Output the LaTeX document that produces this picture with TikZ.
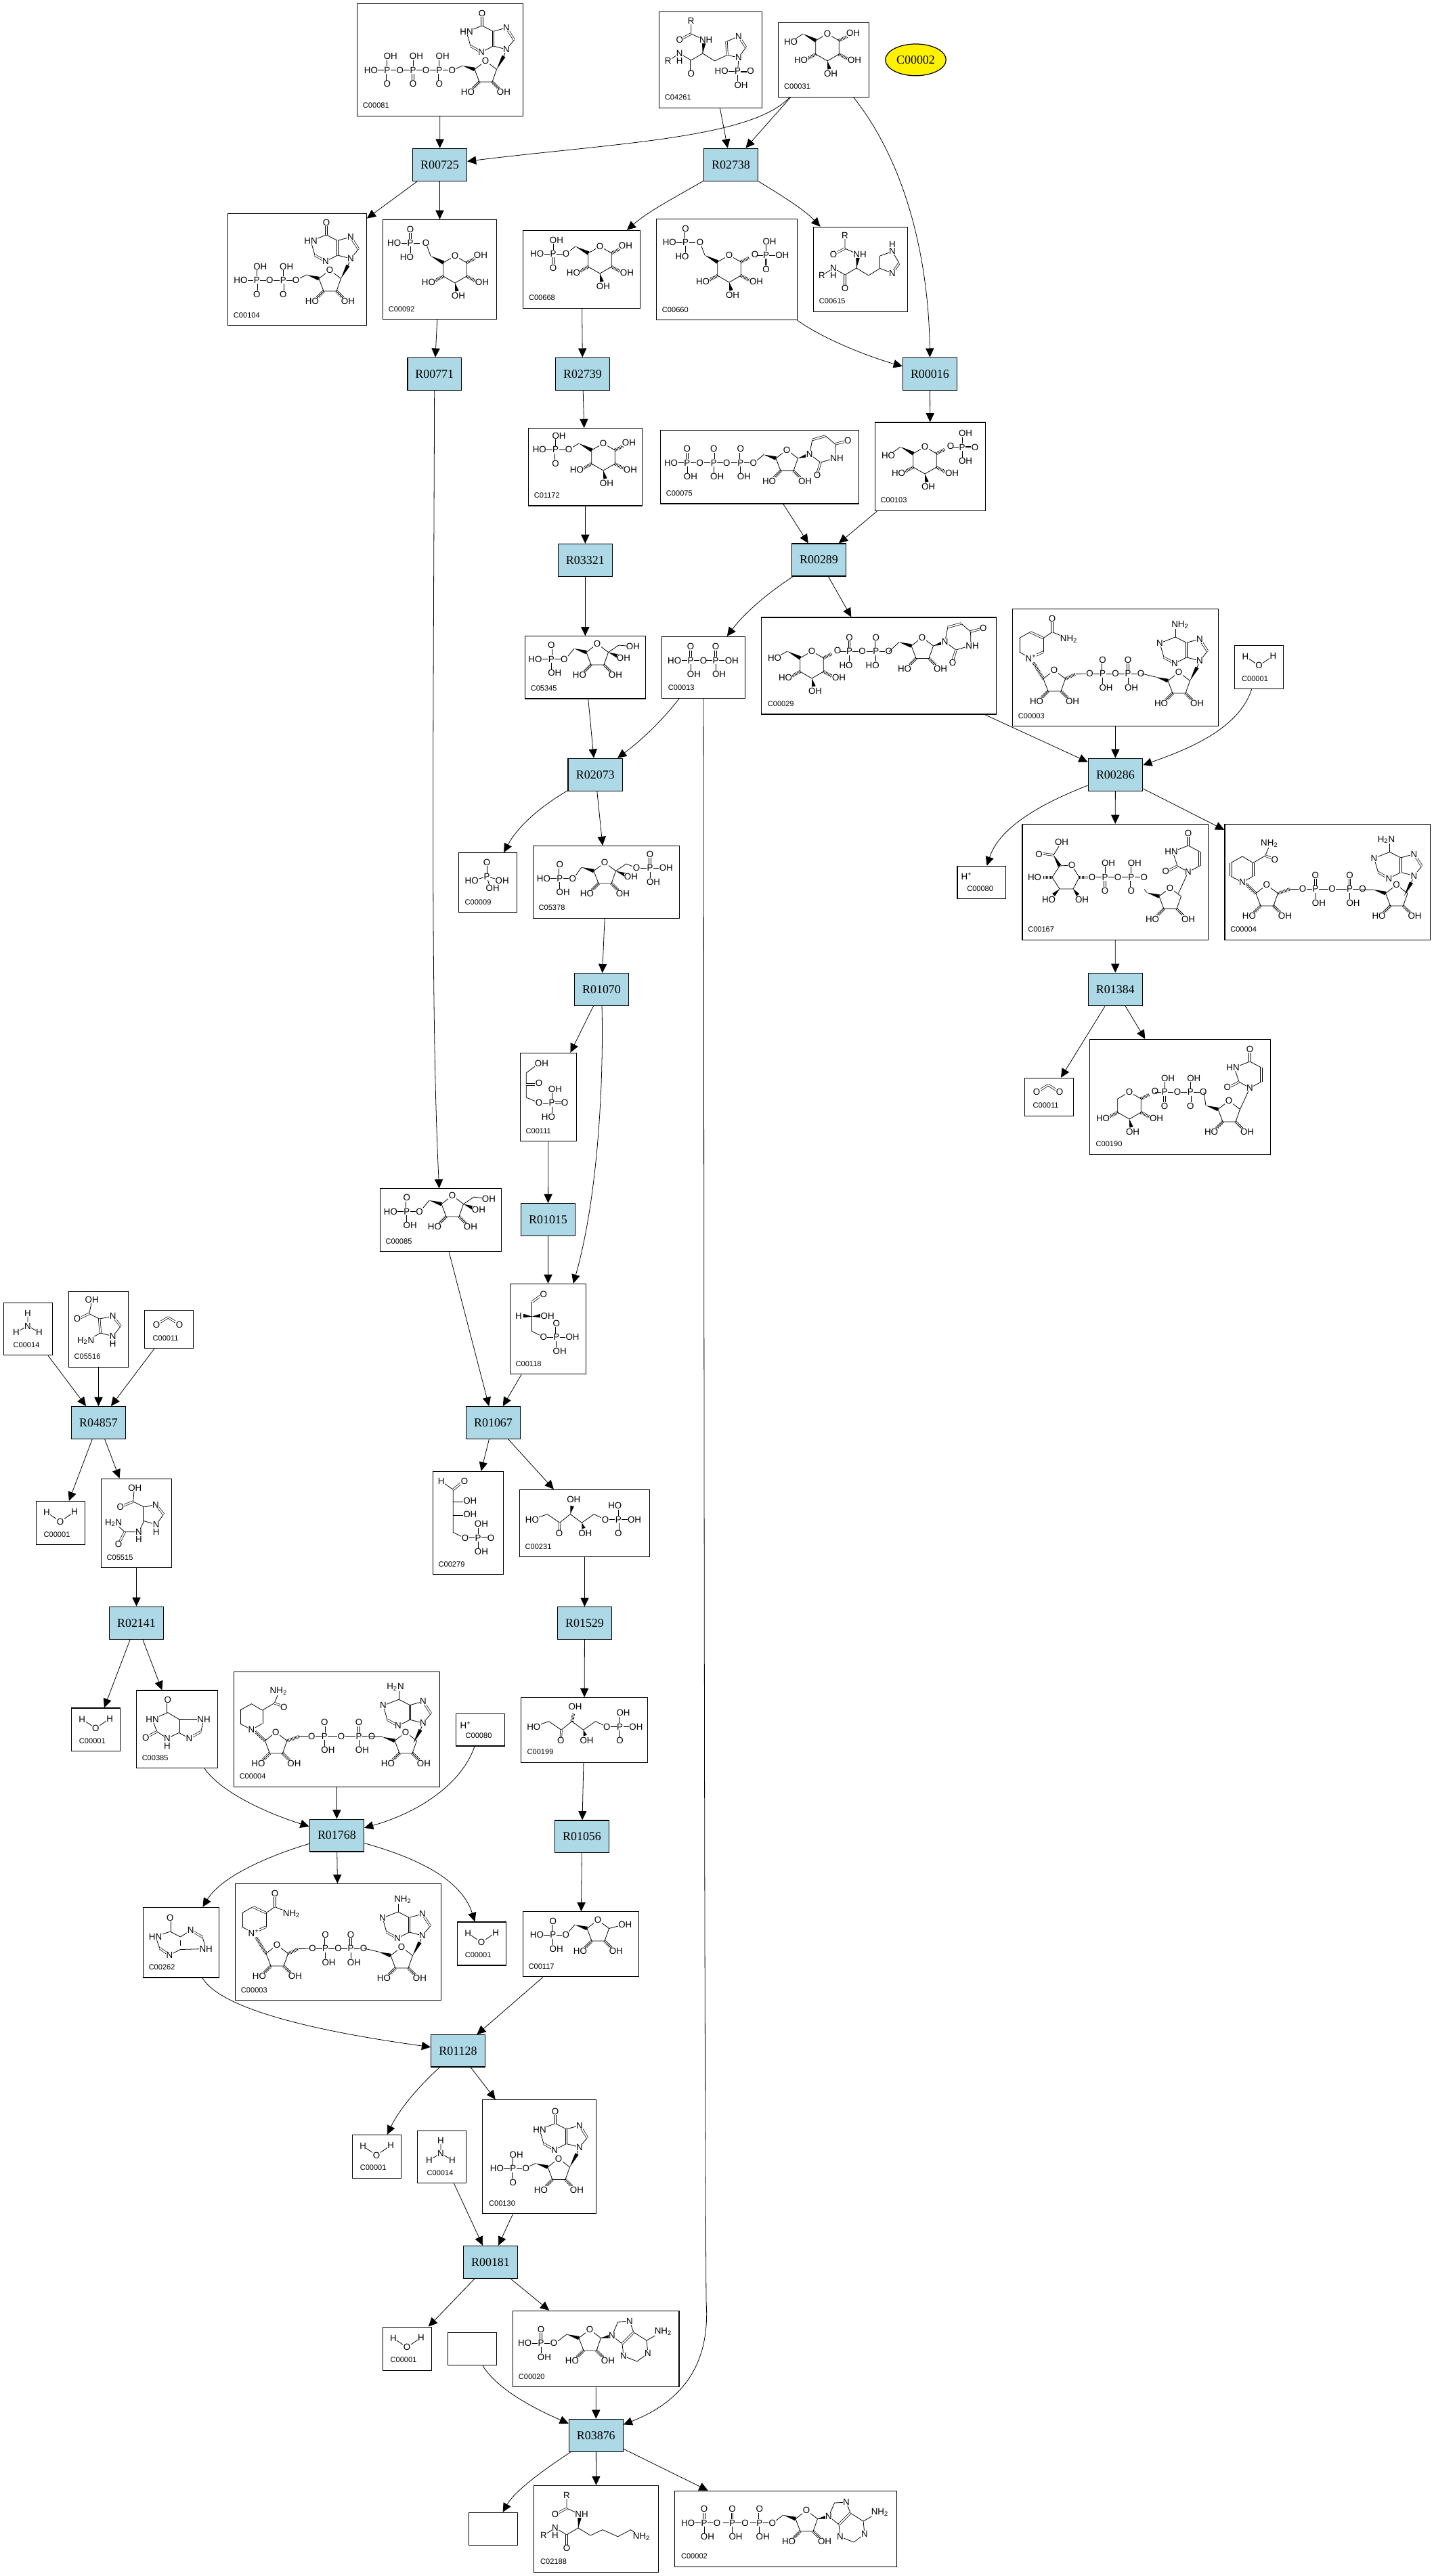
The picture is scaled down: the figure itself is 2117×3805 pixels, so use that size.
\documentclass[tikz,border=0pt]{standalone}
\usepackage{fontspec}
\setmainfont{Liberation Serif}
\newfontfamily\atomfont{Liberation Sans}
\usetikzlibrary{arrows.meta,calc,shapes.geometric}
\definecolor{rxnblue}{HTML}{ADD8E6}
\tikzset{
	cpd/.style={draw,line width=.7pt,inner sep=0pt},
	rxn/.style={draw,line width=.7pt,fill=rxnblue,inner sep=0pt,font=\fontsize{10.2pt}{11pt}\selectfont},
	idlab/.style={anchor=base west,inner sep=0pt,font=\atomfont\fontsize{6.3pt}{7pt}\selectfont},
	atomlab/.style={inner sep=.25pt,fill=white,font=\atomfont\fontsize{7.6pt}{8pt}\selectfont},
	bond/.style={line width=.45pt},
	dbond/.style={line width=.4pt,double,double distance=1.1pt},
	hashb/.style={line width=2.6pt,dash pattern=on .45pt off .75pt},
	edgeb/.style={-{Triangle[length=7.5pt,width=7pt]},line width=.45pt}
}
\newcount\atnum
\def\txtO{O}
\def\txtOH{OH}
% atom label
\newcommand\At[4][center]{\def\attxt{#4}\ifx\attxt\empty\else\global\advance\atnum by 1
	\node[atomlab,anchor=#1] (at\the\atnum) at (#2,#3) {#4};\fi}
% wedge and hashed bond
\newcommand\Wd[4]{\fill ($(#3,#4)!1.6pt!90:(#1,#2)$) -- ($(#3,#4)!1.6pt!-90:(#1,#2)$) -- (#1,#2) -- cycle;}
\newcommand\Hs[4]{\draw[hashb] (#1,#2) -- (#3,#4);}
% phosphate: x y top bottom left right
\newcommand\Pv[2]{\def\pvt{#2}\ifx\pvt\empty\else
	\ifx\pvt\txtO \draw[dbond] (0,#1*5.5) -- (0,#1*15);\At{0}{#1*20.5}{#2}\else
	\draw[bond] (0,#1*5.5) -- (0,#1*15);
	\ifx\pvt\txtOH \At{5}{#1*20.5}{#2}\else \At{-5}{#1*20.5}{#2}\fi\fi\fi}
\newcommand\Pg[6]{\begin{scope}[shift={(#1,#2)}]
	\draw[bond] (-14,0) -- (14,0);
	\Pv{-1}{#3}\Pv{1}{#4}
	\At{0}{0}{P}
	\At[east]{-13}{0}{#5}
	\At[west]{13}{0}{#6}
	\end{scope}}
% six ring: x y c6x c6y c6text anomer
\newcommand\pyr[6]{\begin{scope}[shift={(#1,#2)}]
	\draw[bond] (0,-20) -- (17.3,-10) -- (17.3,10) -- (0,20) -- (-17.3,10) -- (-17.3,-10) -- cycle;
	\def\sixt{#5}\ifx\sixt\empty\else
	\draw[bond] (-36,-20) -- (#3,#4);
	\Wd{-36}{-20}{-17}{-10}
	\At{#3}{#4}{#5}\fi
	\Hs{17}{10}{30}{17}\Hs{-17}{10}{-30}{17}\Hs{17}{-10}{29}{-16}
	\Wd{0}{20}{3}{32}
	\At{0}{-20}{O}\At{-39}{19}{HO}\At{40}{19}{OH}\At{5}{39}{OH}
	\At{38}{-21}{#6}
	\end{scope}}
% five ring
\newcommand\ribo[2]{\begin{scope}[shift={(#1,#2)}]
	\draw[bond] (0,-17) -- (16.5,-4.5) -- (10,14) -- (-9,14) -- (-16,-4.5) -- cycle;
	\Hs{-9}{14}{-19}{24}\Hs{10}{14}{20}{24}
	\At{0}{-17}{O}\At{-26}{29}{HO}\At{27}{29}{OH}
	\end{scope}}
\newcommand\fur[3][-49,-3]{\ribo{#2}{#3}\begin{scope}[shift={(#2,#3)}]
	\draw[bond] (-34,-10) -- (#1);
	\Wd{-34}{-10}{-16}{-4.5}
	\end{scope}}
% keto five ring: opt x y labx laby lab
\newcommand\fru[6][-47,6]{\fur[#1]{#2}{#3}\begin{scope}[shift={(#2,#3)}]
	\draw[bond] (16.5,-4.5) -- (32,-15) -- (#4,#5);
	\Wd{16.5}{-4.5}{30}{1}
	\At{#4}{#5}{#6}\At{39}{4}{OH}
	\end{scope}}
% purine upwards: x y top topdx n1
\newcommand\purU[5]{\begin{scope}[shift={(#1,#2)}]
	\draw[bond] (-5,-69) -- (-28,-60) -- (-22,-39) -- (-6,-30) -- (11.5,-39) -- (31,-34) -- (42.5,-48) -- (31,-66) -- (11.5,-60.6) -- (-5,-69);
	\draw[dbond] (11.5,-39) -- (11.5,-60.6);
	\draw[dbond] (42.5,-48) -- (31,-66);
	\draw[dbond] (-22,-39) -- (-6,-30);
	\def\topt{#3}\ifx\topt\txtO \draw[dbond] (-5,-69) -- (-5,-85);\else \draw[bond] (-5,-69) -- (-5,-84);\fi
	\draw[bond] (27,-24) -- (31,-34);
	\Wd{16.5}{-4.5}{27}{-24}
	\At{-5+#4}{-87}{#3}\At{-28}{-60}{#5}\At{-6}{-30}{N}\At{31}{-66}{N}\At{31}{-34}{N}
	\end{scope}}
% adenine to the right
\newcommand\adeR[2]{\begin{scope}[shift={(#1,#2)}]
	\draw[bond] (16.5,-4.5) -- (33,-8) -- (41.5,-28) -- (59,-29) -- (65,-13) -- (84,-1) -- (86,18) -- (70,30) -- (50,22) -- (48,4) -- (33,-8);
	\draw[dbond] (48,4) -- (65,-13);
	\draw[bond] (84,-1) -- (100,-10);
	\Wd{16.5}{-4.5}{30}{-7}
	\At{33}{-8}{N}\At{59}{-29}{N}\At{86}{18}{N}\At{50}{22}{N}\At{108.5}{-14}{NH\textsubscript{2}}
	\end{scope}}
% uracil to the right
\newcommand\uraR[2]{\begin{scope}[shift={(#1,#2)}]
	\draw[bond] (33.6,-10.5) -- (37.8,-32);
	\draw[dbond] (37.8,-32) -- (57.5,-37.5);
	\draw[bond] (57.5,-37.5) -- (71.5,-25.5) -- (72,-5) -- (50,1.5) -- (33.6,-10.5);
	\draw[dbond] (71.5,-25.5) -- (88,-30);
	\draw[dbond] (50,1.5) -- (45,18);
	\Wd{16.5}{-4.5}{31}{-9}
	\At{33.6}{-10.5}{N}\At{90.4}{-30.5}{O}\At{74}{-5}{NH}\At{45}{20.5}{O}
	\end{scope}}
% uracil upwards
\newcommand\uraU[2]{\begin{scope}[shift={(#1,#2)}]
	\draw[bond] (16.5,-4.5) -- (31,-36) -- (15,-45) -- (8,-66) -- (31,-75) -- (48,-66);
	\draw[dbond] (48,-66) -- (48,-45);
	\draw[bond] (48,-45) -- (31,-36);
	\draw[dbond] (15,-45) -- (0,-37);
	\draw[dbond] (31,-75) -- (31,-91);
	\At{31}{-36}{N}\At{-2.3}{-37}{O}\At{6}{-66}{HN}\At{31}{-93}{O}
	\end{scope}}
% common peptide part
\newcommand\peptide[2]{\begin{scope}[shift={(#1,#2)}]
	\draw[bond] (0,0) -- (0,19) -- (20,28);
	\draw[dbond] (0,19) -- (-15,27);
	\draw[bond] (20,28) -- (17,48) -- (0,58) -- (-17,48) -- (-34,59);
	\draw[dbond] (0,58) -- (0,76);
	\draw[bond] (17,48) -- (35,59);
	\Wd{17}{48}{19}{33}
	\At{0}{0}{R}\At{-17}{28}{O}\At{22}{28}{NH}\At{0}{78}{O}\At{-17}{48}{N}\At{-17}{59}{H}\At{-34}{59}{R}
	\end{scope}}
% nad and nadh from the upper left corner of their box
\newcommand\nad[2]{\begin{scope}[shift={(#1,#2)}]
	\draw[bond] (26,72.4) -- (9.8,63.4);
	\draw[dbond] (9.8,63.4) -- (9.8,43);
	\draw[bond] (9.8,43) -- (26,34);
	\draw[dbond] (26,34) -- (45.4,43);
	\draw[bond] (45.4,43) -- (45.4,63.4);
	\draw[dbond] (45.4,63.4) -- (26,72.4);
	\draw[bond] (45.4,43) -- (58.4,34) -- (83,44);
	\draw[dbond] (58.4,34) -- (58.4,16);
	\ribo{61.4}{107.4}
	\Hs{45.4}{103}{30}{78}
	\Hs{78}{103}{93}{96}
	\draw[bond] (93,96) -- (113,95.4);
	\Pg{133}{95.4}{O}{OH}{O}{O}
	\Pg{170.4}{95.4}{O}{OH}{}{O}
	\fur[-55,-15]{245.4}{110.4}
	\purU{245.4}{110.4}{NH\textsubscript{2}}{7}{N}
	\At{27}{72.4}{N\textsuperscript{+}}\At{58.4}{14.4}{O}\At{83}{44}{NH\textsubscript{2}}
	\end{scope}}
\newcommand\nadh[2]{\begin{scope}[shift={(#1,#2)}]
	\draw[bond] (26,85.7) -- (9,76.8);
	\draw[dbond] (9,76.8) -- (9,57);
	\draw[bond] (9,57) -- (26,47.5) -- (42,57);
	\draw[dbond] (42,57) -- (42,76.8);
	\draw[bond] (42,76.8) -- (26,85.7);
	\draw[bond] (42,57) -- (59.7,46.5) -- (66,32);
	\draw[dbond] (59.7,46.5) -- (72,51);
	\ribo{62}{106.5}
	\Hs{46}{102}{31}{88}
	\Hs{79}{102}{97}{95.5}
	\draw[bond] (97,95.5) -- (113,95.5);
	\draw[bond] (134,95.5) -- (184,95.5);
	\Pg{134}{95.5}{O}{OH}{O}{}
	\Pg{184.6}{95.5}{O}{OH}{}{O}
	\At{158.7}{95.5}{O}
	\fur[-53,-10]{253.6}{106.5}
	\purU{248.6}{110}{H\textsubscript{2}N}{-5}{N}
	\At{26}{85.7}{N}\At{74}{52.5}{O}\At{66}{28.5}{NH\textsubscript{2}}
	\end{scope}}
% small molecules from the upper left corner of their box
\newcommand\water[2]{\begin{scope}[shift={(#1,#2)}]
	\draw[bond] (15.7,16.5) -- (35.7,30) -- (56.7,15.5);
	\At{15.7}{16.5}{H}\At{35.7}{30}{O}\At{56.7}{15.5}{H}
	\end{scope}}
\newcommand\carbdiox[2]{\begin{scope}[shift={(#1,#2)}]
	\draw[dbond] (17.7,21) -- (35,10.3);
	\draw[dbond] (35,10.3) -- (51.7,21);
	\At{17.7}{21}{O}\At{51.7}{21}{O}
	\end{scope}}
\newcommand\ammonia[2]{\begin{scope}[shift={(#1,#2)}]
	\draw[bond] (0,-19) -- (0,0) -- (-17,9.5);
	\draw[bond] (0,0) -- (17,9.5);
	\At{0}{-19}{H}\At{0}{0}{N}\At{-17}{9.5}{H}\At{17}{9.5}{H}
	\end{scope}}
% open chain with phosphate
\newcommand\keto[4]{\begin{scope}[shift={(#1,#2)}]
	\draw[bond] (0,0) -- (22.3,-8) -- (40.7,4.6) -- (56.3,-8) -- (73.3,4.6) -- (91.3,-8) -- (108,0);
	\draw[dbond] (40.7,4.6) -- (40,18);
	#4{56.3}{-8}{59}{-20}
	\Wd{73.3}{4.6}{76}{13}
	\Pg{127.3}{0}{#3}{O}{}{OH}
	\At{0}{0}{HO}\At{40}{20.7}{O}\At{61.3}{-29.3}{OH}\At{78.3}{20}{OH}\At{108}{0}{O}
	\end{scope}}
\begin{document}
\begin{tikzpicture}[x=0.02cm,y=-0.02cm]
	\useasboundingbox (0,0) rectangle (2117,3805);
	% compound boxes
	\foreach \nm/\xa/\ya/\xb/\yb/\dx/\lab in {
		c00081/527.6/5.4/772.7/171.4/8/C00081,c04261/973.6/17.5/1125.7/159.3/8/C04261,
		c00031/1149.8/33.6/1283.6/143.2/8/C00031,c00104/336.6/315.8/541.3/480.6/8/C00104,
		c00092/565.4/324.5/733.5/471.5/8/C00092,c00668/772.7/340.4/945.5/455.4/8/C00668,
		c00660/969.6/323.2/1177.4/472.5/8/C00660,c00615/1201.5/335.4/1340.4/460.4/8/C00615,
		c01172/780.5/632.6/948.2/747.1/8/C01172,c00075/975.6/635.7/1268.3/744.1/8/C00075,
		c00103/1292.3/624/1455.8/754.4/8/C00103,c05345/775.4/939.8/953.3/1031.9/8/C05345,
		c00013/977.5/940.4/1100.6/1031.3/9/C00013,c00029/1124.5/912/1471.6/1055/9/C00029,
		c00003a/1495.6/899.6/1799.2/1072.5/8/C00003,c00001a/1823.8/953.2/1895.2/1017.5/10/C00001,
		c00009/677.3/1259.8/763.7/1347.6/9/C00009,c05378/787.3/1249.5/1003.7/1356.2/8/C05378,
		c00080a/1413.9/1279.3/1485.3/1327.5/14/C00080,c00167/1509.9/1217.5/1784.3/1388.2/8/C00167,
		c00004a/1808.9/1217.5/2112.4/1388.2/8/C00004,c00011a/1513.3/1592.3/1585.3/1648.3/12/C00011,
		c00190/1609.3/1535.3/1876.3/1705.3/9/C00190,c00111/768.3/1555.4/851.7/1685.7/8/C00111,
		c00085/561.3/1755.8/740.7/1848.8/8/C00085,c00118/753.3/1896.4/865.7/2029.6/8/C00118,
		c00014a/5.3/1924.4/77.7/2001.7/14/C00014,c05516/101.3/1907.6/189.7/2019.3/8/C05516,
		c00011b/213.3/1935.5/285.7/1991.7/12/C00011,c00001b/53.3/2217.5/125.7/2281.8/11/C00001,
		c05515/149.3/2184.2/253.7/2315.5/8/C05515,c00279/639.3/2173.4/743.7/2325.5/8/C00279,
		c00231/767.3/2200.4/959.7/2299.7/8/C00231,c00199/769.3/2507.5/956.7/2603.4/9/C00199,
		c00001c/105.6/2522.9/177.6/2586.6/11/C00001,c00385/201.4/2497/321.5/2611.5/8/C00385,
		c00004b/345.4/2469.2/649.4/2639.3/8/C00004,c00080b/673.3/2531.4/745.5/2579/14/C00080,
		c00262/211.4/2817.4/323.3/2920.9/8/C00262,c00003b/347.6/2782.6/651.6/2954.8/8/C00003,
		c00001d/675.4/2839/747.5/2903/11/C00001,c00117/772.3/2823.8/943.7/2919.7/8/C00117,
		c00001e/520.4/3153.5/592.3/3217.3/11/C00001,c00014b/616.3/3147.5/688.3/3224.6/14/C00014,
		c00130/712.8/3101.6/880.6/3269.6/9/C00130,c00001f/565.3/3437.2/637.4/3501.3/11/C00001,
		blanka/661.8/3445.4/733.8/3493.7/0/{},c00020/757.5/3413.3/1003.1/3525.7/8/C00020,
		blankb/692.5/3711.3/764.5/3759.7/0/{},c02188/788.8/3671.3/972.4/3799.3/9/C02188,
		c00002b/996.7/3679.3/1324.5/3791.3/9/C00002}
	{
		\node[cpd,minimum width={(\xb-\xa)*0.02cm},minimum height={(\yb-\ya)*0.02cm}] (\nm) at ({(\xa+\xb)/2},{(\ya+\yb)/2}) {};
		\node[idlab] (l\nm) at (\xa+\dx,\yb-11.5) {\lab};
	}
	% reaction boxes
	\foreach \nm/\xa/\ya/\xb/\yb/\lab in {
		r00725/609.6/219.3/689.4/267.5/R00725,r02738/1039.6/219.3/1119.4/267.5/R02738,
		r00771/601.9/528.3/681.6/576.2/R00771,r02739/820.6/528.3/900.4/576.2/R02739,
		r00016/1333.5/528.3/1413.3/576.2/R00016,r03321/824.5/803.5/904.2/851.4/R03321,
		r00289/1169.6/803/1249.4/851/R00289,r02073/839.1/1120.3/919.5/1168.2/R02073,
		r00286/1607.2/1120.3/1687.6/1168.2/R00286,r01384/1607.3/1437.3/1687.3/1485.7/R01384,
		r01070/848.3/1437.7/928.7/1485.4/R01070,r01015/769.3/1777.6/849.7/1825.2/R01015,
		r01067/688.3/2077.6/768.7/2125.2/R01067,r04857/105.3/2077.5/185.7/2125.3/R04857,
		r02141/161.3/2373.3/241.7/2421.5/R02141,r01529/823.3/2373.8/903.7/2421.4/R01529,
		r01768/457.3/2687.1/537.5/2734.9/R01768,r01056/819.3/2688.9/899.7/2736.6/R01056,
		r01128/636.7/3005.7/716.3/3052.9/R01128,r00181/684.7/3317.4/764.3/3365.6/R00181,
		r03876/840.4/3573.3/920.2/3621.3/R03876}
	\node[rxn,minimum width={(\xb-\xa)*0.02cm},minimum height={(\yb-\ya)*0.02cm}] (\nm) at ({(\xa+\xb)/2},{(\ya+\yb)/2}) {\lab};
	\node[ellipse,draw,line width=.7pt,fill=yellow,inner sep=0pt,minimum width=89.6*0.02cm,minimum height=46.8*0.02cm,font=\fontsize{10.2pt}{11pt}\selectfont] (c00002e) at (1352.5,88.4) {C00002};
	% straight edges
	\foreach \a/\b in {c00081/r00725,c04261/r02738,c00031/r02738,r00725/c00104,r00725/c00092,
		c00092/r00771,c00668/r02739,r00016/c00103,c00103/r00289,c00075/r00289,r00289/c00029,
		c00029/r00286,c00003a/r00286,r00286/c00167,r00286/c00004a,c00167/r01384,r01384/c00011a,
		r01384/c00190,r02739/c01172,c01172/r03321,r03321/c05345,c05345/r02073,r02073/c05378,
		c05378/r01070,r01070/c00111,c00111/r01015,r01015/c00118,c00085/r01067,c00118/r01067,
		r01067/c00279,r01067/c00231,c00231/r01529,r01529/c00199,c00199/r01056,r01056/c00117,
		c00117/r01128,c00014a/r04857,c05516/r04857,c00011b/r04857,r04857/c00001b,r04857/c05515,
		c05515/r02141,r02141/c00001c,r02141/c00385,c00004b/r01768,r01768/c00003b,r01128/c00130,
		c00014b/r00181,c00130/r00181,r00181/c00001f,r00181/c00020,c00020/r03876,r03876/c02188,
		r03876/c00002b}
	\draw[edgeb] (\a) -- (\b);
	% curved edges
	\draw[edgeb] (c00031) .. controls (1110,205) and (900,212) .. (r00725);
	\draw[edgeb] (c00031) .. controls (1345,250) and (1372,400) .. (r00016.north);
	\draw[edgeb] (r02738) .. controls (1000,290) and (959,311) .. (c00668);
	\draw[edgeb] (r02738) .. controls (1165,295) and (1190,312) .. (c00615);
	\draw[edgeb] (c00660) .. controls (1219,503) and (1290,529) .. (r00016);
	\draw[edgeb] (r00771) .. controls (640,1100) and (636,1500) .. (c00085);
	\draw[edgeb] (r00289) .. controls (1135,875) and (1100,905) .. (c00013);
	\draw[edgeb] (c00001a) .. controls (1830,1075) and (1760,1105) .. (r00286);
	\draw[edgeb] (r00286) .. controls (1530,1190) and (1475,1225) .. (c00080a);
	\draw[edgeb] (c00013) .. controls (975,1068) and (945,1095) .. (r02073);
	\draw[edgeb] (c00013.south) .. controls (1040,2000) and (1040,2900) .. (1043,3400) .. controls (1050,3500) and (1000,3550) .. (r03876);
	\draw[edgeb] (r02073) .. controls (800,1190) and (765,1220) .. (c00009);
	\draw[edgeb] (r01070) .. controls (892,1620) and (880,1780) .. (c00118.61);
	\draw[edgeb] (c00385) .. controls (325,2645) and (385,2675) .. (r01768);
	\draw[edgeb] (c00080b) .. controls (680,2640) and (610,2680) .. (r01768);
	\draw[edgeb] (r01768) .. controls (385,2745) and (325,2775) .. (c00262);
	\draw[edgeb] (r01768) .. controls (600,2740) and (680,2770) .. (c00001d);
	\draw[edgeb] (c00262) .. controls (325,2965) and (450,2998) .. (r01128);
	\draw[edgeb] (r01128) .. controls (620,3080) and (590,3115) .. (c00001e);
	\draw[edgeb] (blanka) .. controls (735,3530) and (790,3558) .. (r03876);
	\draw[edgeb] (r03876) .. controls (800,3650) and (760,3680) .. (blankb);
	% top row
	\fur{717}{107}
	\purU{717}{107}{O}{0}{HN}
	\Pg{571.8}{103.6}{OH}{O}{HO}{O}
	\Pg{610}{103.6}{OH}{O}{}{O}
	\Pg{648.7}{103.6}{OH}{O}{}{O}
	\peptide{1020.7}{31}
	\draw[bond] (1055.7,90) -- (1074,81.4) -- (1091,85) -- (1101.6,70);
	\draw[dbond] (1074,81.4) -- (1073,61.4);
	\draw[bond] (1073,61.4) -- (1091,53.6);
	\draw[dbond] (1091,53.6) -- (1101.6,70);
	\draw[bond] (1091,85) -- (1089.5,105.4);
	\draw[dbond] (1094,105.4) -- (1103,105.4);
	\At{1091}{53.6}{N}\At{1091}{85}{N}
	\Pg{1089.5}{105.4}{}{OH}{HO}{O}
	\pyr{1222}{70}{-54}{-8}{HO}{OH}
	% second row
	\fur{487}{416}
	\purU{487}{416}{O}{0}{HN}
	\Pg{379.3}{414}{OH}{O}{HO}{O}
	\Pg{418.2}{414}{OH}{O}{}{O}
	\pyr{672}{398}{-43}{-39}{O}{OH}
	\Pg{606}{359}{O}{HO}{HO}{}
	\pyr{886}{384}{-50}{-9}{O}{OH}
	\Pg{817}{375}{OH}{O}{HO}{}
	\pyr{1077}{397}{-43}{-39}{O}{O}
	\Pg{1012.6}{358}{O}{HO}{HO}{}
	\Pg{1131.5}{377}{OH}{O}{}{OH}
	\peptide{1248}{348}
	\draw[bond] (1283.6,406.4) -- (1299.7,396.4) -- (1318,403.6);
	\draw[dbond] (1299.7,396.4) -- (1299.7,378);
	\draw[bond] (1299.7,378) -- (1318,371.4) -- (1328,388.6);
	\draw[dbond] (1328,388.6) -- (1318,403.6);
	\At{1318}{371.4}{N}\At{1318}{361}{H}\At{1318}{403.6}{N}
	% third row
	\pyr{891}{675}{-51}{-11}{O}{OH}
	\Pg{820.6}{664}{OH}{O}{HO}{}
	\fur[-48,2]{1162}{681.5}
	\uraR{1162}{681.5}
	\Pg{1014.9}{683.7}{O}{OH}{HO}{O}
	\Pg{1054.2}{683.7}{O}{OH}{}{O}
	\Pg{1093.8}{683.7}{O}{OH}{}{O}
	\pyr{1366}{680}{-54}{-7}{HO}{O}
	\Pg{1421}{660.5}{OH}{OH}{}{O}
	\draw[dbond] (1426,660.5) -- (1434,660.5);
	% fourth row
	\fru{882}{968}{53}{-13}{OH}
	\Pg{814.3}{973.7}{O}{OH}{HO}{O}
	\Pg{1020}{975.6}{O}{OH}{HO}{O}
	\Pg{1057}{975.6}{O}{OH}{}{OH}
	\pyr{1199}{982}{-55}{-10}{HO}{O}
	\Pg{1254.5}{962.3}{O}{HO}{}{O}
	\Pg{1293.7}{962.3}{O}{HO}{}{O}
	\fur[-49,4]{1362}{958.5}
	\uraR{1362}{958.5}
	\nad{1495.6}{899.6}
	\water{1823.8}{953.2}
	% fifth row
	\draw[bond] (719,1294.8) -- (719,1273.6);
	\draw[bond] (696.7,1301) -- (719,1294.8) -- (741.7,1300.5);
	\draw[bond] (719,1294.8) -- (724,1312);
	\At{719}{1294.8}{P}\At{719}{1273.6}{O}\At{696.7}{1301}{HO}\At{741.7}{1300.5}{OH}\At{727.7}{1312}{OH}
	\fru[-46,6.7]{893}{1291}{47}{-9}{O}
	\Pg{826.7}{1297.7}{O}{OH}{HO}{O}
	\Pg{960}{1282}{O}{OH}{}{OH}
	\At{1427.5}{1294}{H\textsuperscript{+}}
	\draw[bond] (1554,1296) -- (1565,1279) -- (1583,1278) -- (1594,1296) -- (1585,1313) -- (1565,1313) -- cycle;
	\draw[dbond] (1556,1263) -- (1541,1261);
	\draw[bond] (1556,1263) -- (1564,1250);
	\Wd{1556}{1263}{1565}{1279}
	\Hs{1554}{1296}{1540}{1296}\Hs{1594}{1296}{1606}{1296}
	\Wd{1585}{1313}{1592}{1322}\Wd{1565}{1313}{1556}{1322}
	\At{1568}{1244}{OH}\At{1534.6}{1261.4}{O}\At{1583}{1278}{O}\At{1528}{1295.4}{HO}\At{1549}{1329}{HO}\At{1598}{1329}{OH}
	\Pg{1632}{1295.4}{OH}{O}{O}{O}
	\Pg{1670.8}{1295.4}{OH}{O}{}{O}
	\fur[-38,-15]{1728}{1328.5}
	\uraU{1724}{1324}
	\nadh{1808.9}{1217.5}
	\carbdiox{1513.3}{1592.3}
	\pyr{1668}{1633}{0}{0}{}{O}
	\Pg{1720}{1613.3}{OH}{O}{}{O}
	\Pg{1758.3}{1613.3}{OH}{O}{}{O}
	\fur[-37,-30]{1815}{1643}
	\uraU{1815}{1643}
	\draw[bond] (789,1576) -- (777.3,1584.7) -- (777.3,1621) -- (796,1629);
	\draw[bond] (789,1576) -- (795,1572);
	\draw[dbond] (777.3,1602) -- (790,1602);
	\At{800}{1570.4}{OH}\At{796}{1600}{O}
	\Pg{815}{1629}{OH}{HO}{O}{O}
	\draw[dbond] (820,1629) -- (829,1629);
	\fru{668}{1783}{54}{-12}{OH}
	\Pg{600.7}{1789.6}{O}{OH}{HO}{O}
	\draw[bond] (785.7,1966.5) -- (785.7,1923.4);
	\draw[dbond] (785.7,1923.4) -- (798,1914);
	\draw[bond] (785.7,1966.5) -- (802.7,1975);
	\Wd{785.7}{1944.6}{773}{1943.5}
	\Wd{785.7}{1944.6}{798}{1943.5}
	\At{802.7}{1912}{O}\At{766}{1943.5}{H}\At{808.7}{1943.5}{OH}
	\Pg{821.7}{1975}{O}{OH}{O}{OH}
	% left column
	\ammonia{41}{1958.5}
	\draw[bond] (135,1925) -- (131.7,1940.5) -- (146.7,1948) -- (166.7,1944.3);
	\draw[dbond] (131.7,1940.5) -- (118,1947);
	\draw[dbond] (146.7,1948) -- (148.3,1969);
	\draw[bond] (148.3,1969) -- (166.7,1973.8) -- (178.3,1959);
	\draw[dbond] (178.3,1959) -- (166.7,1944.3);
	\draw[bond] (148.3,1969) -- (132,1978);
	\At{135.7}{1920}{OH}\At{114}{1948}{O}\At{166.7}{1944.3}{N}\At{166.7}{1973.8}{N}\At{166.7}{1985}{H}\At{126.7}{1980.3}{H\textsubscript{2}N}
	\carbdiox{213.3}{1935.5}
	\water{53.3}{2217.5}
	\draw[bond] (198,2203) -- (196.7,2218) -- (212.7,2226) -- (230,2222.5);
	\draw[dbond] (196.7,2218) -- (182,2224);
	\draw[dbond] (212.7,2226) -- (212.7,2246.6);
	\draw[bond] (212.7,2246.6) -- (230.7,2252) -- (241.7,2236.7);
	\draw[dbond] (241.7,2236.7) -- (230,2222.5);
	\draw[bond] (212.7,2246.6) -- (205,2262.7) -- (184.3,2262.7) -- (172,2252);
	\draw[dbond] (184.3,2262.7) -- (176,2279);
	\At{199.3}{2197.6}{OH}\At{177.7}{2225.6}{O}\At{230}{2222.5}{N}\At{230.7}{2252}{N}\At{230.7}{2262.7}{H}\At{205}{2262.7}{N}\At{205}{2274}{H}\At{175}{2281}{O}\At{167.7}{2249.3}{H\textsubscript{2}N}
	\water{105.6}{2522.9}
	\draw[dbond] (247.8,2529.6) -- (247.8,2514);
	\draw[bond] (247.8,2529.6) -- (225,2539.5) -- (231.8,2557.7) -- (247,2567.7) -- (264.3,2559.4);
	\draw[dbond] (231.8,2557.7) -- (218,2565);
	\draw[dbond] (264.3,2559.4) -- (264.3,2539.5);
	\draw[bond] (264.3,2539.5) -- (247.8,2529.6);
	\draw[bond] (264.3,2539.5) -- (301,2539.5) -- (296.8,2557.7);
	\draw[dbond] (296.8,2557.7) -- (279.5,2567.7);
	\draw[bond] (279.5,2567.7) -- (264.3,2559.4);
	\At{247.8}{2511.3}{O}\At{225}{2539.5}{HN}\At{215.3}{2567}{O}\At{247}{2567.7}{N}\At{247}{2579.3}{H}\At{301}{2539.5}{NH}\At{279.5}{2567.7}{N}
	\draw[bond] (251.3,2853) -- (229.6,2860.6) -- (236,2877.8);
	\draw[dbond] (236,2877.8) -- (250.4,2887.8);
	\draw[bond] (250.4,2887.8) -- (266.5,2879.5) -- (304.2,2878.5) -- (299,2861);
	\draw[dbond] (299,2861) -- (281.6,2851.3);
	\draw[bond] (281.6,2851.3) -- (266.5,2861) -- (251.3,2853);
	\draw[bond] (266.5,2866) -- (266.5,2874);
	\draw[dbond] (251.3,2853) -- (251.3,2835);
	\At{251.3}{2832.4}{O}\At{229.6}{2860.6}{HN}\At{250.4}{2887.8}{N}\At{281.6}{2851.3}{N}\At{304.2}{2878.5}{NH}
	% middle column
	\draw[bond] (669.3,2200.4) -- (669.3,2263.5) -- (686,2271.6);
	\draw[bond] (651.7,2187.8) -- (669.3,2200.4);
	\draw[dbond] (669.3,2200.4) -- (682,2190);
	\draw[bond] (669.3,2218) -- (685,2218);
	\draw[bond] (669.3,2238) -- (685,2238);
	\At{651.7}{2187.8}{H}\At{686}{2187.8}{O}\At{694.3}{2216.5}{OH}\At{694.3}{2236.6}{OH}
	\Pg{706}{2271.6}{OH}{OH}{O}{O}
	\draw[dbond] (711,2271.6) -- (720,2271.6);
	\keto{786}{2244.6}{HO}{\Wd}
	\keto{788.3}{2550.6}{OH}{\Hs}
	\nadh{345.4}{2469.2}
	\At{687.5}{2548}{H\textsuperscript{+}}
	\nad{347.6}{2782.6}
	\water{675.4}{2839}
	\fur[-47,5]{883}{2853}
	\draw[bond] (899.5,2848.5) -- (913,2845);
	\At{923.3}{2842.8}{OH}
	\Pg{816.7}{2858}{O}{OH}{HO}{O}
	\water{520.4}{3153.5}
	\ammonia{651}{3181}
	\fur{825}{3205.5}
	\purU{825}{3205.5}{O}{0}{HN}
	\Pg{757.7}{3203}{OH}{O}{HO}{O}
	\water{565.3}{3437.2}
	\fur[-51,3]{871}{3458}
	\adeR{871}{3458}
	\Pg{799}{3461}{O}{OH}{HO}{O}
	\peptide{837}{3686}
	\draw[bond] (872,3745) -- (890,3736.7) -- (912.5,3746.7) -- (931.6,3736.7) -- (942,3744);
	\At{947.6}{3746.7}{NH\textsubscript{2}}
	\fur[-49,1]{1191}{3725}
	\adeR{1191}{3725}
	\Pg{1040}{3726.7}{O}{OH}{HO}{O}
	\Pg{1081.5}{3726.7}{O}{OH}{}{O}
	\Pg{1121.7}{3726.7}{O}{OH}{}{O}
\end{tikzpicture}
\end{document}
